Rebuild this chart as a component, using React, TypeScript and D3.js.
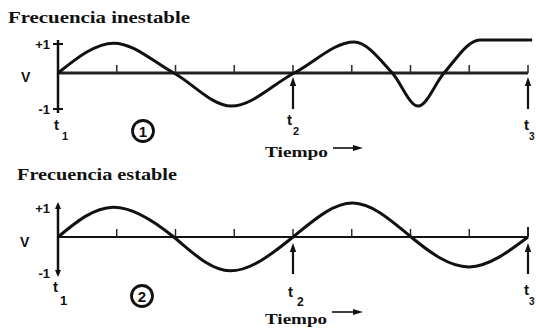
import React from "react";
import * as d3 from "d3";

// ---- data ----
const tickTimes = [1, 2, 3, 4, 5, 6, 7, 8];
const markerTimes = [4, 8];
const topT = [0, 0.95, 1.97, 2.95, 4.02, 5.04, 5.69, 6.13, 6.57, 7.18, 8.07];
const topV = [0, 1.03, 0, -0.92, 0, 1.07, 0, -0.92, 0, 1.14, 1.14];
const botT = [0, 0.94, 1.97, 2.93, 4.0, 5.02, 6.01, 7.0, 8.0];
const botV = [0, 1.03, 0, -0.94, 0, 1.17, 0, -0.83, 0];
const titles = ["Frecuencia inestable", "Frecuencia estable"];
const markerLabels = ["1", "2", "3"];
const xLabel = "Tiempo";

const x = d3.scaleLinear().domain([0, 8]).range([58, 528]);

const serif = "'Liberation Serif', 'DejaVu Serif', serif";
const sans = "'Liberation Sans', Arial, sans-serif";

function upArrow(cx: number, tip: number, bottom: number, key: string) {
  return (
    <g key={key}>
      <line x1={cx} x2={cx} y1={tip + 6} y2={bottom} stroke="#111" strokeWidth={2.2} />
      <path d={`M${cx},${tip} L${cx - 3.2},${tip + 9} L${cx + 3.2},${tip + 9} Z`} fill="#111" />
    </g>
  );
}

function rightArrow(x0: number, x1: number, y: number) {
  return (
    <g>
      <line x1={x0} x2={x1 - 6} y1={y} y2={y} stroke="#111" strokeWidth={1.6} />
      <path d={`M${x1},${y} L${x1 - 10},${y - 3} L${x1 - 10},${y + 3} Z`} fill="#111" />
    </g>
  );
}

export default function App() {
  const yTop = d3.scaleLinear().domain([-1, 0, 1]).range([109, 73, 44]);
  const yBot = d3.scaleLinear().domain([-1, 0, 1]).range([273, 237, 208]);

  const topLine = d3
    .line<number>()
    .x((_, i) => x(topT[i]))
    .y((v) => yTop(v))
    .curve(d3.curveMonotoneX)(topV) as string;
  const botLine = d3
    .line<number>()
    .x((_, i) => x(botT[i]))
    .y((v) => yBot(v))
    .curve(d3.curveNatural)(botV) as string;

  const y0t = yTop(0);
  const y0b = yBot(0);

  return (
    <svg width={536} height={329} style={{ position: "absolute", left: 0, top: 0, background: "#fff" }}>
      {/* ---------- top panel ---------- */}
      <text x={8} y={23} fontFamily={serif} fontWeight="bold" fontSize={17} textLength={182} lengthAdjust="spacingAndGlyphs" fill="#111">
        {titles[0]}
      </text>
      <line x1={x(0)} x2={x(8)} y1={y0t} y2={y0t} stroke="#222" strokeWidth={3} />
      <line x1={x(0)} x2={x(0)} y1={40} y2={113} stroke="#111" strokeWidth={2.5} />
      {[1, -1].map((v) => (
        <line key={v} x1={53} x2={63} y1={yTop(v)} y2={yTop(v)} stroke="#111" strokeWidth={2} />
      ))}
      {tickTimes.map((t) => (
        <line key={t} x1={x(t)} x2={x(t)} y1={y0t} y2={y0t - 8} stroke="#333" strokeWidth={1.6} />
      ))}
      {markerTimes.map((t) => upArrow(x(t), y0t + 4, 109, "ta" + t))}
      <path d={topLine} fill="none" stroke="#111" strokeWidth={3} strokeLinejoin="round" />
      <text x={50} y={49} textAnchor="end" fontFamily={sans} fontWeight="bold" fontSize={13} fill="#111">+1</text>
      <text x={50} y={114} textAnchor="end" fontFamily={sans} fontWeight="bold" fontSize={13} fill="#111">-1</text>
      <text x={21} y={82} fontFamily={sans} fontWeight="bold" fontSize={14} fill="#111">V</text>
      <text x={54} y={130} fontFamily={sans} fontWeight="bold" fontSize={15} fill="#111">t</text>
      <text x={62} y={140} fontFamily={sans} fontWeight="bold" fontSize={11} fill="#111">{markerLabels[0]}</text>
      <text x={287} y={125} fontFamily={sans} fontWeight="bold" fontSize={15} fill="#111">t</text>
      <text x={293} y={135} fontFamily={sans} fontWeight="bold" fontSize={11} fill="#111">{markerLabels[1]}</text>
      <text x={524} y={130} fontFamily={sans} fontWeight="bold" fontSize={15} fill="#111">t</text>
      <text x={529} y={140} fontFamily={sans} fontWeight="bold" fontSize={10} fill="#111">{markerLabels[2]}</text>
      <circle cx={143} cy={131} r={10.5} fill="none" stroke="#111" strokeWidth={2.8} />
      <text x={143} y={136.5} textAnchor="middle" fontFamily={sans} fontWeight="bold" fontSize={15} fill="#111">1</text>
      <text x={265} y={157} fontFamily={serif} fontWeight="bold" fontSize={15.5} textLength={63} lengthAdjust="spacingAndGlyphs" fill="#111">
        {xLabel}
      </text>
      {rightArrow(333, 363, 148)}

      {/* ---------- bottom panel ---------- */}
      <text x={17} y={180} fontFamily={serif} fontWeight="bold" fontSize={16} textLength={160} lengthAdjust="spacingAndGlyphs" fill="#111">
        {titles[1]}
      </text>
      <line x1={x(0)} x2={x(8)} y1={y0b} y2={y0b} stroke="#111" strokeWidth={2} />
      <line x1={x(0)} x2={x(0)} y1={205} y2={274} stroke="#111" strokeWidth={2.5} />
      <path d={`M58,202 L55,209 L61,209 Z`} fill="#111" />
      <path d={`M58,277 L55,270 L61,270 Z`} fill="#111" />
      {tickTimes.map((t) => (
        <line key={t} x1={x(t)} x2={x(t)} y1={y0b} y2={y0b - (t === 8 ? 10 : 8)} stroke="#222" strokeWidth={t === 8 ? 2 : 1.4} />
      ))}
      {markerTimes.map((t) => upArrow(x(t), y0b + 6, 274, "ba" + t))}
      <path d={botLine} fill="none" stroke="#111" strokeWidth={3} strokeLinejoin="round" />
      <text x={50} y={213} textAnchor="end" fontFamily={sans} fontWeight="bold" fontSize={13} fill="#111">+1</text>
      <text x={50} y={278} textAnchor="end" fontFamily={sans} fontWeight="bold" fontSize={13} fill="#111">-1</text>
      <text x={20} y={247} fontFamily={sans} fontWeight="bold" fontSize={14} fill="#111">V</text>
      <text x={53} y={292} fontFamily={sans} fontWeight="bold" fontSize={15} fill="#111">t</text>
      <text x={60} y={305} fontFamily={sans} fontWeight="bold" fontSize={13} fill="#111">{markerLabels[0]}</text>
      <text x={288} y={297} fontFamily={sans} fontWeight="bold" fontSize={15} fill="#111">t</text>
      <text x={297} y={306} fontFamily={sans} fontWeight="bold" fontSize={12} fill="#111">{markerLabels[1]}</text>
      <text x={524} y={295} fontFamily={sans} fontWeight="bold" fontSize={15} fill="#111">t</text>
      <text x={529} y={305} fontFamily={sans} fontWeight="bold" fontSize={10} fill="#111">{markerLabels[2]}</text>
      <circle cx={142} cy={296} r={10.5} fill="none" stroke="#111" strokeWidth={2.8} />
      <text x={142} y={301.5} textAnchor="middle" fontFamily={sans} fontWeight="bold" fontSize={15} fill="#111">2</text>
      <text x={265} y={324} fontFamily={serif} fontWeight="bold" fontSize={15.5} textLength={62} lengthAdjust="spacingAndGlyphs" fill="#111">
        {xLabel}
      </text>
      {rightArrow(332, 363, 312)}
    </svg>
  );
}
